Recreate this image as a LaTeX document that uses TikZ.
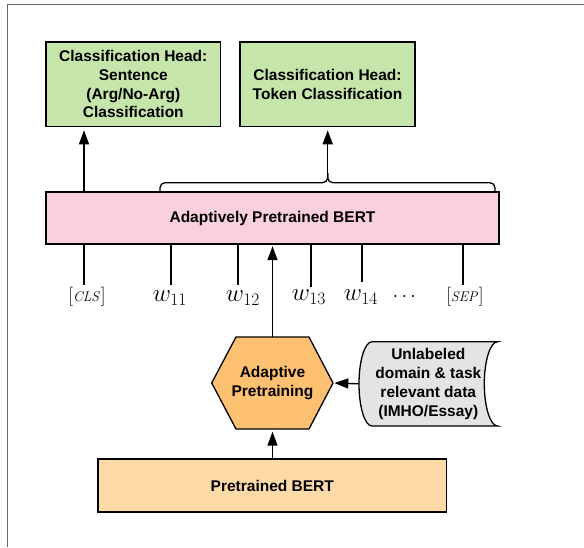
\documentclass[tikz,border=0pt]{standalone}
\usepackage{amsmath}
\usepackage{fix-cm}
\usepackage[no-math]{fontspec}
\setmainfont{Liberation Sans}
\usepackage{tikz}
\usetikzlibrary{arrows.meta}
\definecolor{headgreen}{RGB}{198,229,170}
\definecolor{bertpink}{RGB}{249,208,220}
\definecolor{hexorange}{RGB}{253,193,113}
\definecolor{basebert}{RGB}{254,218,167}
\definecolor{datagray}{RGB}{228,228,228}
\newcommand{\myarr}{-{Triangle[length=14pt,width=10pt]}}
\newcommand{\spec}[1]{{\fontsize{19}{19}\selectfont$[$}{\fontsize{14}{14}\selectfont$\mathit{#1}$}{\fontsize{19}{19}\selectfont$]$}}
\tikzset{box/.style={draw,line width=1.3pt,align=center,font=\fontsize{15.5}{18.7}\selectfont\bfseries}}

\begin{document}
\begin{tikzpicture}[x=1pt,y=-1pt]
		\useasboundingbox (0,0) rectangle (584,547);
		\draw[black!60,line width=1pt] (7.3,547) -- (7.3,4.7) -- (584,4.7);
		\node[box,fill=headgreen,minimum width=174.7pt,minimum height=84.7pt] (sent) at (133.3,84.3) {Classification Head:\\Sentence\\(Arg/No-Arg)\\Classification};
		\node[box,fill=headgreen,minimum width=175pt,minimum height=84.7pt] (tok) at (327.5,84.3) {Classification Head:\\Token Classification};
		\node[box,fill=bertpink,minimum width=453pt,minimum height=52pt] (bert) at (272.5,218) {Adaptively Pretrained BERT};
		% brace over the word tokens
		\coordinate (cusp) at (327.7,173);
		\draw[line width=1.3pt,rounded corners=5pt] (160,192) -- (160,182.7) -- (327.7,182.7) -- (cusp);
		\draw[line width=1.3pt,rounded corners=5pt] (495,192) -- (495,182.7) -- (327.7,182.7) -- (cusp);
		\coordinate (ecls) at (84,285);
		\draw[line width=1.4pt,\myarr,shorten >=3pt] (ecls |- bert.north) -- (ecls |- sent.south);
		\draw[line width=1.4pt,\myarr,shorten >=3pt] (cusp) -- (cusp |- tok.south);
		% token lines
		\coordinate (e11) at (171,285);
		\coordinate (e12) at (237.7,285);
		\coordinate (e13) at (310.7,287);
		\coordinate (e14) at (362,282);
		\coordinate (esep) at (463,285);
		\foreach \e in {ecls,e11,e12,e13,e14,esep}
			\draw[line width=2pt] (\e |- bert.south) -- (\e);
		\node[anchor=base] (lcls) at (87,301.5) {\spec{CLS}};
		\node[anchor=base] (l11) at (170,301.5) {\fontsize{25}{25}\selectfont$w_{11}$};
		\node[anchor=base] (l12) at (243,301.5) {\fontsize{25}{25}\selectfont$w_{12}$};
		\node[anchor=base] (l13) at (309,300.5) {\fontsize{25}{25}\selectfont$w_{13}$};
		\node[anchor=base] (l14) at (361,300.5) {\fontsize{25}{25}\selectfont$w_{14}$};
		\node[anchor=base] (ldots) at (406,301.5) {\fontsize{20}{20}\selectfont$\cdots$};
		\node[anchor=base] (lsep) at (465,301.5) {\spec{SEP}};
		% hexagon and stored data shapes
		\draw[fill=hexorange,line width=1.3pt] (211.7,383) -- (236,337) -- (309,337) -- (333,383) -- (309,429) -- (236,429) -- cycle;
		\node[align=center,font=\fontsize{15.5}{19}\selectfont\bfseries,minimum width=121.3pt,minimum height=92pt] (adapt) at (272.5,383) {Adaptive\\Pretraining};
		\draw[fill=datagray,line width=1.3pt] (372,341.7) arc[start angle=90,end angle=270,x radius=13pt,y radius=42.15pt] -- (497.7,426) arc[start angle=270,end angle=90,x radius=13.4pt,y radius=42.15pt] -- cycle;
		\node[align=center,font=\fontsize{15.5}{19}\selectfont\bfseries,minimum width=138.7pt,minimum height=84.3pt] (data) at (428.3,383.8) {Unlabeled\\domain \& task\\relevant data\\(IMHO/Essay)};
		\node[box,fill=basebert,minimum width=348.7pt,minimum height=53pt] (base) at (272.3,485.5) {Pretrained BERT};
		\draw[line width=1.4pt,\myarr,shorten >=1.5pt] (adapt.north) -- (adapt.north |- bert.south);
		\draw[line width=1.4pt,\myarr,shorten >=2.5pt] (adapt.south |- base.north) -- (adapt.south);
		\draw[line width=1.4pt,\myarr,shorten >=1pt] (data.west) -- (adapt.east);
\end{tikzpicture}
\end{document}
